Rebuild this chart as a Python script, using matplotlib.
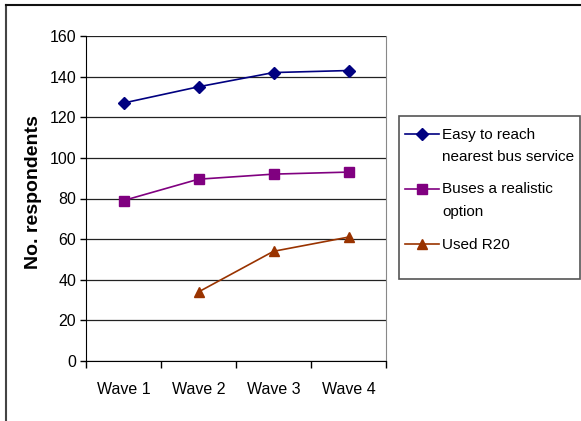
import matplotlib
matplotlib.use("Agg")
import matplotlib.pyplot as plt
from matplotlib.lines import Line2D
from matplotlib.patches import Rectangle
import numpy as np

plt.rcParams['font.family'] = ['Liberation Sans', 'DejaVu Sans']

categories = ["Wave 1", "Wave 2", "Wave 3", "Wave 4"]
easy = [127, 135, 142, 143]
buses = [79, 89.5, 92, 93]
used_r20 = [None, 34, 54, 61]
labels = ["Easy to reach\nnearest bus service", "Buses a realistic\noption", "Used R20"]
colors = ['#000080', '#800080', '#993300']
markers = ['D', 's', '^']
msizes = [6.5, 7, 7.5]

fs = 11.5
W, H = 581, 421
fig = plt.figure(figsize=(W/100, H/100), dpi=100)
ax = fig.add_axes([86/W, 1-361/H, (386-86)/W, (361-36)/H])

x = np.arange(len(categories))
r20 = np.array([np.nan if v is None else v for v in used_r20], dtype=float)
for ys, c, m, s in zip([easy, buses, r20], colors, markers, msizes):
    ax.plot(x, ys, color=c, marker=m, markersize=s, lw=1.2)

ax.set_xlim(-0.5, 3.5)
ax.set_ylim(0, 160)
ax.set_yticks(range(0, 161, 20))
ax.set_xticks(x)
ax.set_xticklabels(categories)
ax.set_xticks(np.arange(-0.5, 3.6, 1), minor=True)
ax.tick_params(axis='x', which='major', length=0, pad=15, labelsize=fs)
ax.tick_params(axis='x', which='minor', length=5, width=1, direction='out', color='black')
ax.tick_params(axis='y', length=4, width=1, direction='out', labelsize=fs, pad=3)
ax.yaxis.grid(True, color='#222222', lw=0.9)
ax.set_axisbelow(True)
ax.spines['top'].set_visible(False)
ax.spines['right'].set_color('#888888')
ax.spines['left'].set_color('black')
ax.spines['bottom'].set_color('black')
ax.set_ylabel("No. respondents", fontsize=14, fontweight='bold')
ax.yaxis.set_label_coords(-0.145, 0.52)

# legend (drawn manually to match the original layout)
handle_y = [134, 189, 244]
line_baselines = [[139, 161], [193, 216], [249]]
for lab, c, m, s, hy, bls in zip(labels, colors, markers, msizes, handle_y, line_baselines):
    fig.add_artist(Line2D([405/W, 439/W], [1-hy/H, 1-hy/H], color=c, lw=1.2,
                          transform=fig.transFigure))
    fig.add_artist(Line2D([422/W], [1-hy/H], color=c, marker=m, markersize=s-0.5,
                          transform=fig.transFigure))
    for part, bl in zip(lab.split('\n'), bls):
        fig.text(442/W, 1-bl/H, part, fontsize=11, va='baseline', ha='left')

fig.add_artist(Rectangle((399/W, 1-279/H), (580-399)/W, (279-116)/H, transform=fig.transFigure,
                         fill=False, edgecolor='#555555', lw=1.2))
fig.add_artist(Line2D([6/W, 6/W], [0, 1-5/H], color='#444444', lw=1.5, transform=fig.transFigure))
fig.add_artist(Line2D([6/W, 1], [1-5/H, 1-5/H], color='#111111', lw=1.5, transform=fig.transFigure))

fig.savefig("out.png", dpi=100)
